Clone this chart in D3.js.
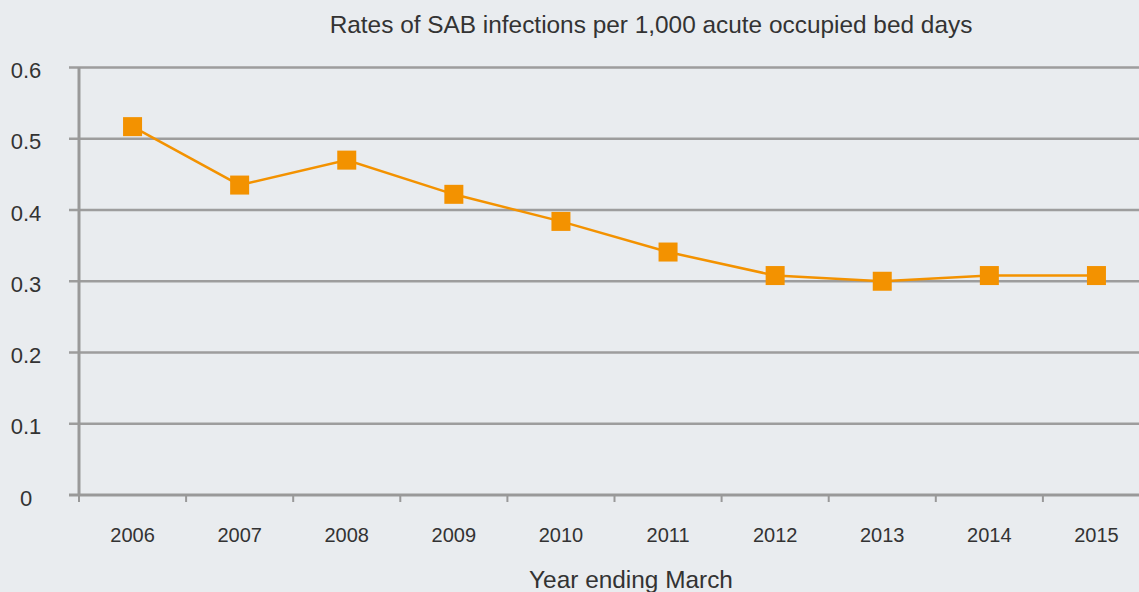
<!DOCTYPE html>
<html>
<head>
<meta charset="utf-8">
<script src="https://cdn.jsdelivr.net/npm/d3@7"></script>
<style>
  body { margin: 0; background: #e9ecef; }
  svg { display: block; }
  text { font-family: "Liberation Sans", Arial, sans-serif; fill: #333; }
</style>
</head>
<body>
<div id="chart"></div>
<script>
// data
let years = ["2006", "2007", "2008", "2009", "2010", "2011", "2012", "2013", "2014", "2015"];
let rates = [0.517, 0.435, 0.470, 0.422, 0.384, 0.341, 0.308, 0.300, 0.308, 0.308];
let yTicks = [0, 0.1, 0.2, 0.3, 0.4, 0.5, 0.6];

let width = 1139, height = 592;
let left = 79, step = 107.1;

let svg = d3.select("#chart")
    .append("svg")
    .attr("width", width)
    .attr("height", height);

svg.append("rect")
    .attr("width", width)
    .attr("height", height)
    .attr("fill", "#e9ecef");

let x = d3.scaleBand()
    .domain(years)
    .range([left, left + step * years.length]);

let y = d3.scaleLinear()
    .domain([0, 0.6])
    .range([495, 67.5]);

// title
svg.append("text")
    .attr("x", 651)
    .attr("y", 33)
    .attr("text-anchor", "middle")
    .style("font-size", "24.4px")
    .text("Rates of SAB infections per 1,000 acute occupied bed days");

// horizontal gridlines
svg.append("g")
    .selectAll("line")
    .data(yTicks.filter(d => d > 0))
    .enter()
    .append("line")
    .attr("x1", 69)
    .attr("x2", width)
    .attr("y1", d => y(d))
    .attr("y2", d => y(d))
    .attr("stroke", "#9d9d9d")
    .attr("stroke-width", 2.5);

// y labels
svg.append("g")
    .selectAll("text")
    .data(yTicks)
    .enter()
    .append("text")
    .attr("x", 26)
    .attr("y", d => y(d) + 10.5)
    .attr("text-anchor", "middle")
    .style("font-size", "22px")
    .text(d => d === 0 ? "0" : d3.format(".1f")(d));

// y axis line
svg.append("line")
    .attr("x1", x.range()[0])
    .attr("x2", x.range()[0])
    .attr("y1", y(0.6))
    .attr("y2", y(0))
    .attr("stroke", "#999")
    .attr("stroke-width", 3);

// x axis
let xAxis = d3.axisBottom(x)
    .tickSize(0)
    .tickPadding(0);

let gx = svg.append("g")
    .attr("transform", "translate(0," + y(0) + ")")
    .call(xAxis);
gx.select(".domain").remove();
gx.selectAll("text")
    .attr("dy", null)
    .attr("y", 47)
    .style("font-size", "20px")
    .attr("fill", "#333");

svg.append("line")
    .attr("x1", 69)
    .attr("x2", width)
    .attr("y1", y(0))
    .attr("y2", y(0))
    .attr("stroke", "#999")
    .attr("stroke-width", 3);

// tick marks at band edges
svg.append("g")
    .selectAll("line")
    .data(years)
    .enter()
    .append("line")
    .attr("x1", d => x(d))
    .attr("x2", d => x(d))
    .attr("y1", y(0))
    .attr("y2", y(0) + 7)
    .attr("stroke", "#999")
    .attr("stroke-width", 2);

// axis title
svg.append("text")
    .attr("x", 631)
    .attr("y", 588)
    .attr("text-anchor", "middle")
    .style("font-size", "24.4px")
    .text("Year ending March");

// line + markers
let line = d3.line()
    .x((d, i) => x(years[i]) + x.bandwidth() / 2)
    .y(d => y(d));

svg.append("path")
    .datum(rates)
    .attr("d", line)
    .attr("fill", "none")
    .attr("stroke", "#f39200")
    .attr("stroke-width", 2.5);

let size = 19;
svg.append("g")
    .selectAll("rect")
    .data(rates)
    .enter()
    .append("rect")
    .attr("x", (d, i) => x(years[i]) + x.bandwidth() / 2 - size / 2)
    .attr("y", d => y(d) - size / 2)
    .attr("width", size)
    .attr("height", size)
    .attr("fill", "#f39200");
</script>
</body>
</html>
